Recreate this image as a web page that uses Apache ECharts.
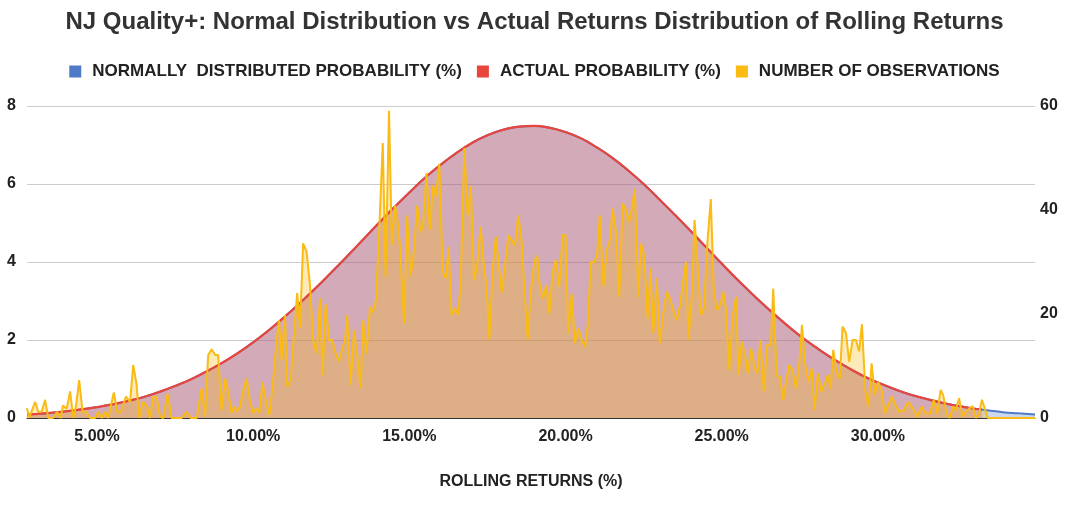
<!DOCTYPE html>
<html>
<head>
<meta charset="utf-8">
<script src="https://cdn.jsdelivr.net/npm/echarts@6/dist/echarts.min.js"></script>
<style>
  html, body { margin: 0; padding: 0; background: #fff; }
  #chart { width: 1069px; height: 505px; }
</style>
</head>
<body>
<div id="chart"></div>
<script>
// return (%) -> probability (%)
var normalCurve = [
    [2.76, 0.09], [3.0, 0.10], [3.5, 0.13], [4.0, 0.17], [4.5, 0.22], [5.0, 0.28],
    [5.5, 0.35], [6.0, 0.44], [6.5, 0.54], [7.0, 0.67], [7.5, 0.82], [8.0, 0.99],
    [8.5, 1.19], [9.0, 1.41], [9.5, 1.66], [10.0, 1.94], [10.5, 2.25], [11.0, 2.59],
    [11.5, 2.95], [12.0, 3.33], [12.5, 3.73], [13.0, 4.14], [13.5, 4.56], [14.0, 4.98],
    [14.5, 5.39], [15.0, 5.78], [15.5, 6.16], [16.0, 6.49], [16.5, 6.79], [17.0, 7.05],
    [17.5, 7.25], [18.0, 7.39], [18.5, 7.47], [19.0, 7.49], [19.5, 7.44], [20.0, 7.33],
    [20.5, 7.17], [21.0, 6.94], [21.5, 6.67], [22.0, 6.35], [22.5, 6.00], [23.0, 5.61],
    [23.5, 5.21], [24.0, 4.80], [24.5, 4.38], [25.0, 3.96], [25.5, 3.55], [26.0, 3.16],
    [26.5, 2.79], [27.0, 2.44], [27.5, 2.11], [28.0, 1.82], [28.5, 1.55], [29.0, 1.31],
    [29.5, 1.09], [30.0, 0.91], [30.5, 0.75], [31.0, 0.61], [31.5, 0.50], [32.0, 0.40],
    [32.5, 0.32], [33.0, 0.25], [33.5, 0.20], [34.0, 0.15], [34.5, 0.12], [35.03, 0.09]
];

var actualCurve = [
    [2.76, 0.09], [3.0, 0.10], [3.5, 0.13], [4.0, 0.17], [4.5, 0.22], [5.0, 0.28],
    [5.5, 0.35], [6.0, 0.44], [6.5, 0.54], [7.0, 0.67], [7.5, 0.82], [8.0, 0.99],
    [8.5, 1.19], [9.0, 1.41], [9.5, 1.66], [10.0, 1.94], [10.5, 2.25], [11.0, 2.59],
    [11.5, 2.95], [12.0, 3.33], [12.5, 3.73], [13.0, 4.14], [13.5, 4.56], [14.0, 4.98],
    [14.5, 5.39], [15.0, 5.78], [15.5, 6.16], [16.0, 6.49], [16.5, 6.79], [17.0, 7.05],
    [17.5, 7.25], [18.0, 7.39], [18.5, 7.47], [19.0, 7.49], [19.5, 7.44], [20.0, 7.33],
    [20.5, 7.17], [21.0, 6.94], [21.5, 6.67], [22.0, 6.35], [22.5, 6.00], [23.0, 5.61],
    [23.5, 5.21], [24.0, 4.80], [24.5, 4.38], [25.0, 3.96], [25.5, 3.55], [26.0, 3.16],
    [26.5, 2.79], [27.0, 2.44], [27.5, 2.11], [28.0, 1.82], [28.5, 1.55], [29.0, 1.31],
    [29.5, 1.09], [30.0, 0.91], [30.5, 0.75], [31.0, 0.61], [31.5, 0.50], [32.0, 0.40],
    [32.5, 0.32], [33.0, 0.25], [33.33, 0.22]
];

// return (%) -> number of observations
var observations = [
    [2.76, 1.9], [2.83, 0], [3.02, 3.1], [3.12, 1.2], [3.23, 1.2], [3.34, 3.5], [3.44, 0],
    [3.59, 0], [3.72, 1.2], [3.84, 0], [3.91, 2.4], [4.03, 1.8], [4.14, 5.1], [4.24, 0],
    [4.33, 2.4], [4.43, 7.3], [4.54, 1.2], [4.65, 1.2], [4.78, 0], [4.94, 0], [5.04, 1.2],
    [5.15, 0], [5.26, 1.2], [5.36, 0], [5.54, 4.9], [5.65, 1.2], [5.76, 1.2], [5.93, 4.1],
    [6.06, 3.1], [6.16, 10.2], [6.27, 6.4], [6.35, 0], [6.48, 3.1], [6.59, 2.4], [6.70, 0],
    [6.80, 4.1], [6.91, 4.1], [7.02, 0.3], [7.12, 0], [7.26, 4.7], [7.39, 0], [7.55, 0],
    [7.71, 0], [7.87, 1.2], [8.00, 0], [8.19, 0], [8.35, 5.7], [8.46, 0.3], [8.56, 12.1],
    [8.67, 13.2], [8.78, 12.1], [8.88, 12.1], [8.99, 1.5], [9.10, 7.6], [9.20, 5.1],
    [9.31, 1.0], [9.39, 2.2], [9.47, 1.3], [9.58, 2.2], [9.68, 5.4], [9.79, 7.6], [9.90, 3.2],
    [10.00, 1.0], [10.11, 1.9], [10.20, 1.0], [10.30, 6.9], [10.41, 3.2], [10.52, 0.6],
    [10.64, 7.3], [10.75, 15], [10.83, 18.8], [10.91, 11.1], [11.02, 19.8], [11.09, 6.0],
    [11.20, 7.3], [11.31, 16.3], [11.41, 24], [11.50, 17.3], [11.60, 33.6], [11.71, 32.0],
    [11.82, 25.6], [11.92, 15], [12.03, 12.4], [12.14, 23], [12.22, 8.2], [12.32, 21.9],
    [12.43, 15], [12.53, 15], [12.64, 12.4], [12.75, 10.9], [12.85, 13.4], [12.94, 15],
    [13.01, 19.8], [13.12, 6.4], [13.23, 16.9], [13.33, 12.4], [13.44, 5.7], [13.52, 18.8],
    [13.63, 12.4], [13.74, 21.4], [13.83, 20.4], [13.93, 22.4], [14.04, 36.8], [14.15, 52.9],
    [14.24, 27.2], [14.35, 59.1], [14.44, 33.3], [14.54, 40.9], [14.65, 36.8], [14.70, 32.9],
    [14.83, 18.2], [14.93, 39.0], [15.04, 27.2], [15.15, 32.3], [15.25, 40.9], [15.36, 35.8],
    [15.44, 37.1], [15.55, 47.1], [15.66, 36.2], [15.75, 44.8], [15.85, 42.6], [15.96, 48.9],
    [16.07, 28.1], [16.17, 26.9], [16.26, 32.9], [16.35, 19.8], [16.46, 21.1], [16.57, 19.8],
    [16.65, 27.2], [16.76, 51.9], [16.87, 39.0], [16.97, 44.6], [17.07, 26.5], [17.17, 29.1],
    [17.28, 36.8], [17.39, 29.1], [17.47, 25.6], [17.56, 15.1], [17.67, 28.8], [17.77, 34.9],
    [17.88, 28.5], [17.96, 24.1], [18.07, 29.7], [18.17, 35.2], [18.27, 34.2], [18.38, 33.3],
    [18.49, 39.0], [18.60, 33.6], [18.70, 23.3], [18.79, 15.1], [18.89, 24.6], [19.00, 30.0],
    [19.09, 31.2], [19.18, 25.3], [19.28, 23.0], [19.39, 25.6], [19.48, 20.1], [19.59, 28.1],
    [19.69, 30.4], [19.80, 25.3], [19.91, 35.2], [20.00, 35.2], [20.09, 16.3], [20.20, 23.9],
    [20.30, 14.4], [20.41, 17.3], [20.52, 15.0], [20.62, 13.7], [20.71, 17.6], [20.81, 30.0],
    [20.92, 30.0], [21.01, 31.3], [21.10, 39.0], [21.21, 25.3], [21.32, 32.3], [21.42, 34.2],
    [21.51, 40.3], [21.62, 35.5], [21.72, 23.3], [21.83, 41.3], [21.93, 40.0], [22.04, 37.8],
    [22.13, 40.6], [22.22, 44.0], [22.33, 23.3], [22.41, 33.6], [22.52, 31.3], [22.63, 19.1],
    [22.72, 28.8], [22.81, 16.3], [22.92, 26.9], [23.02, 14.4], [23.13, 20.1], [23.24, 24.3],
    [23.34, 23.0], [23.45, 20.8], [23.56, 18.8], [23.66, 21.4], [23.77, 26.5], [23.86, 30.0],
    [23.94, 15.1], [24.05, 23.9], [24.13, 38.1], [24.22, 30.4], [24.33, 19.8], [24.43, 21.1],
    [24.54, 33.6], [24.65, 42.1], [24.75, 24.3], [24.86, 20.8], [24.97, 22.1], [25.05, 24.3],
    [25.14, 20.8], [25.24, 9.2], [25.35, 19.4], [25.46, 23.3], [25.54, 8.3], [25.65, 14.7],
    [25.75, 11.8], [25.84, 8.6], [25.94, 13.4], [26.05, 9.9], [26.14, 8.6], [26.24, 15.0],
    [26.35, 5.1], [26.46, 14.1], [26.57, 14.1], [26.65, 24.9], [26.76, 8.1], [26.86, 8.0],
    [26.97, 3.5], [27.06, 6.9], [27.16, 10.2], [27.27, 9.2], [27.38, 5.7], [27.48, 10.2],
    [27.57, 17.9], [27.67, 10.5], [27.78, 6.9], [27.88, 9.5], [27.97, 1.5], [28.08, 8.6],
    [28.19, 5.1], [28.29, 6.4], [28.40, 8.3], [28.49, 5.7], [28.57, 13.1], [28.68, 8.9],
    [28.78, 7.6], [28.87, 17.6], [28.98, 16.3], [29.08, 10.8], [29.19, 15], [29.30, 15],
    [29.40, 12.8], [29.49, 18.0], [29.60, 5.1], [29.70, 2.2], [29.80, 10.5], [29.90, 4.5],
    [30.01, 6.9], [30.12, 5.4], [30.22, 0.9], [30.33, 2.5], [30.44, 4.1], [30.54, 2.8],
    [30.68, 1.2], [30.83, 1.5], [30.97, 3.1], [31.13, 1.8], [31.26, 0.2], [31.40, 2.2],
    [31.51, 0.9], [31.67, 0.9], [31.79, 3.5], [31.90, 0.9], [32.01, 5.4], [32.09, 4.4],
    [32.20, 0.9], [32.30, 0], [32.41, 2.2], [32.49, 1.5], [32.60, 3.8], [32.71, 0.2],
    [32.81, 1.2], [32.92, 1.8], [33.03, 2.3], [33.14, 0], [33.24, 0.9], [33.33, 3.5],
    [33.44, 1.5], [33.52, 0], [35.03, 0]
];

var xTickValues = [5, 10, 15, 20, 25, 30];

var chart = echarts.init(document.getElementById('chart'));

var labelFont = {
    fontFamily: 'Liberation Sans, Arial, sans-serif',
    fontWeight: 'bold',
    fontSize: 16,
    color: '#222'
};

var option = {
    animation: false,
    backgroundColor: '#fff',
    title: {
        text: 'NJ Quality+: Normal Distribution vs Actual Returns Distribution of Rolling Returns',
        left: 'center',
        top: 5,
        textStyle: {
            fontFamily: 'Liberation Sans, Arial, sans-serif',
            fontWeight: 'bold',
            fontSize: 24,
            color: '#333'
        }
    },
    legend: {
        top: 58,
        left: 'center',
        itemWidth: 12,
        itemHeight: 12,
        itemGap: 15,
        icon: 'rect',
        textStyle: {
            fontFamily: 'Liberation Sans, Arial, sans-serif',
            fontWeight: 'bold',
            fontSize: 17,
            color: '#222',
            padding: [0, 0, 0, 6]
        },
        data: ['NORMALLY  DISTRIBUTED PROBABILITY (%)', 'ACTUAL PROBABILITY (%)', 'NUMBER OF OBSERVATIONS']
    },
    grid: {
        left: 27,
        right: 34,
        top: 106,
        bottom: 87
    },
    xAxis: {
        type: 'value',
        min: 2.76,
        max: 35.03,
        name: 'ROLLING RETURNS (%)',
        nameLocation: 'middle',
        nameGap: 56,
        nameTextStyle: labelFont,
        axisLine: { lineStyle: { color: '#333', width: 1 } },
        axisTick: { show: false },
        splitLine: { show: false },
        axisLabel: Object.assign({
            customValues: xTickValues,
            margin: 11,
            formatter: function (v) { return v.toFixed(2) + '%'; }
        }, labelFont)
    },
    yAxis: [
        {
            type: 'value',
            min: 0,
            max: 8,
            interval: 2,
            axisLine: { show: false },
            axisTick: { show: false },
            splitLine: { lineStyle: { color: '#cccccc' } },
            axisLabel: Object.assign({ margin: 11 }, labelFont)
        },
        {
            type: 'value',
            min: 0,
            max: 60,
            interval: 20,
            axisLine: { show: false },
            axisTick: { show: false },
            splitLine: { show: false },
            axisLabel: Object.assign({ margin: 5 }, labelFont)
        }
    ],
    series: [
        {
            name: 'NORMALLY  DISTRIBUTED PROBABILITY (%)',
            type: 'line',
            smooth: true,
            showSymbol: false,
            color: '#4f7ac7',
            lineStyle: { width: 2 },
            areaStyle: { opacity: 0.3 },
            data: normalCurve
        },
        {
            name: 'ACTUAL PROBABILITY (%)',
            type: 'line',
            smooth: true,
            showSymbol: false,
            color: '#e8453c',
            lineStyle: { width: 2.2 },
            areaStyle: { opacity: 0.3 },
            data: actualCurve
        },
        {
            name: 'NUMBER OF OBSERVATIONS',
            type: 'line',
            yAxisIndex: 1,
            showSymbol: false,
            color: '#f9bb14',
            lineStyle: { width: 2 },
            areaStyle: { opacity: 0.3 },
            data: observations
        }
    ]
};

chart.setOption(option);
</script>
</body>
</html>
